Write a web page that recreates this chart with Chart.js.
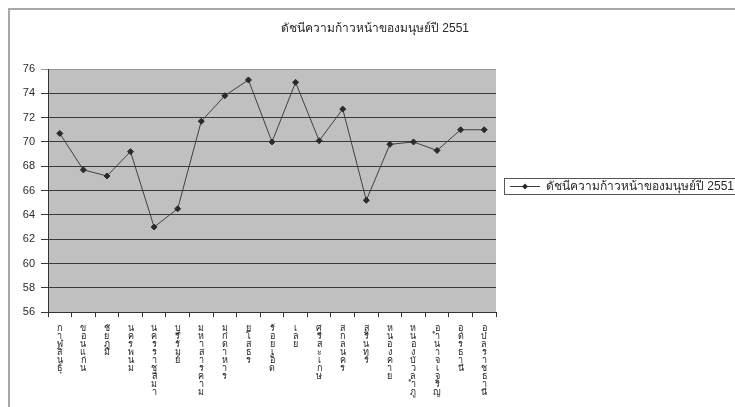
<!DOCTYPE html>
<html>
<head>
<meta charset="utf-8">
<script src="https://cdn.jsdelivr.net/npm/chart.js@4.4.1/dist/chart.umd.min.js"></script>
<style>
  html, body { margin: 0; padding: 0; background: #fff; overflow: hidden; }
  #wrap { position: relative; width: 735px; height: 407px; }
  #frame { position: absolute; left: 8px; top: 8px; width: 760px; height: 440px;
           border-left: 2px solid #a8a8a8; border-top: 2px solid #a8a8a8; }
  canvas { position: absolute; left: 0; top: 0; }
</style>
</head>
<body>
<div id="wrap">
  <div id="frame"></div>
  <canvas id="hai" width="735" height="407"></canvas>
</div>
<script>
// provinces of the northeast, in Thai alphabetical order
const provinces = [
  'กาฬสินธุ์', 'ขอนแก่น', 'ชัยภูมิ', 'นครพนม', 'นครราชสีมา', 'บุรีรัมย์',
  'มหาสารคาม', 'มุกดาหาร', 'ยโสธร', 'ร้อยเอ็ด', 'เลย', 'ศรีสะเกษ',
  'สกลนคร', 'สุรินทร์', 'หนองคาย', 'หนองบัวลำภู', 'อำนาจเจริญ', 'อุดรธานี',
  'อุบลราชธานี'
];
const hai2551 = [
  70.7, 67.7, 67.2, 69.2, 63.0, 64.5, 71.7, 73.8, 75.1, 70.0,
  74.9, 70.1, 72.7, 65.2, 69.8, 70.0, 69.3, 71.0, 71.0
];
const yTicks = [56, 58, 60, 62, 64, 66, 68, 70, 72, 74, 76];
const seriesName = 'ดัชนีความก้าวหน้าของมนุษย์ปี 2551';

const FONT = "'Liberation Sans', 'DejaVu Sans', 'Noto Sans', sans-serif";

// stack each label one character per line (keep Thai marks with their base)
function stacked(name) {
  return name.match(/.[\u0E31\u0E34-\u0E3A\u0E47-\u0E4E]*/gu);
}

const plotBackground = {
  id: 'plotBackground',
  beforeDraw(chart) {
    const { ctx, chartArea: a } = chart;
    ctx.save();
    ctx.fillStyle = '#c0c0c0';
    ctx.fillRect(a.left, a.top, a.right - a.left, a.bottom - a.top);
    ctx.restore();
  }
};

// title centred on the whole chart frame, not just the plot
const frameTitle = {
  id: 'frameTitle',
  afterDraw(chart) {
    const ctx = chart.ctx;
    ctx.save();
    ctx.fillStyle = '#2a2a2a';
    ctx.font = '12px ' + FONT;
    ctx.textAlign = 'center';
    ctx.textBaseline = 'middle';
    ctx.fillText(seriesName, 375, 29);
    ctx.restore();
  }
};

// excel style legend: framed box, line with marker, series name
const boxedLegend = {
  id: 'boxedLegend',
  afterDraw(chart) {
    const { ctx, chartArea: a } = chart;
    const ds = chart.data.datasets[0];
    const x = a.right + 8, y = 178, h = 16;
    ctx.save();
    ctx.strokeStyle = '#555';
    ctx.lineWidth = 1;
    ctx.strokeRect(x + 0.5, y + 0.5, 260, h);
    const cy = y + h / 2 + 0.5;
    ctx.strokeStyle = ds.borderColor;
    ctx.beginPath();
    ctx.moveTo(x + 6, cy);
    ctx.lineTo(x + 36, cy);
    ctx.stroke();
    ctx.fillStyle = ds.pointBackgroundColor;
    ctx.beginPath();
    ctx.moveTo(x + 21, cy - 3);
    ctx.lineTo(x + 24, cy);
    ctx.lineTo(x + 21, cy + 3);
    ctx.lineTo(x + 18, cy);
    ctx.closePath();
    ctx.fill();
    ctx.fillStyle = '#2a2a2a';
    ctx.font = '12px ' + FONT;
    ctx.textBaseline = 'middle';
    ctx.fillText(ds.label, x + 42, cy);
    ctx.restore();
  }
};

new Chart(document.getElementById('hai'), {
  type: 'line',
  data: {
    labels: provinces.map(stacked),
    datasets: [{
      label: seriesName,
      data: hai2551,
      borderColor: '#404040',
      borderWidth: 1,
      pointStyle: 'rectRot',
      pointRadius: 3,
      pointBackgroundColor: '#2a2a2a',
      pointBorderColor: '#2a2a2a',
      tension: 0
    }]
  },
  options: {
    responsive: false,
    animation: false,
    layout: { padding: { left: 18, right: 239, top: 69, bottom: 3 } },
    plugins: {
      legend: { display: false },
      tooltip: { enabled: false },
      title: { display: false }
    },
    scales: {
      x: {
        offset: true,
        grid: { offset: true, drawOnChartArea: false, color: '#333', tickLength: 5 },
        border: { color: '#333' },
        ticks: {
          autoSkip: false,
          maxRotation: 0,
          minRotation: 0,
          padding: 7,
          color: '#222',
          font: { family: FONT, size: 9, lineHeight: 0.9 }
        }
      },
      y: {
        min: yTicks[0],
        max: yTicks[yTicks.length - 1],
        afterBuildTicks(scale) { scale.ticks = yTicks.map(v => ({ value: v })); },
        afterFit(scale) { scale.width = 30; },
        grid: {
          color: ctx => ctx.tick && ctx.tick.value === 76 ? '#999' : '#3a3a3a',
          tickLength: 7
        },
        border: { color: '#333' },
        ticks: {
          padding: 6,
          color: '#2a2a2a',
          font: { family: FONT, size: 11 }
        }
      }
    }
  },
  plugins: [plotBackground, frameTitle, boxedLegend]
});
</script>
</body>
</html>
